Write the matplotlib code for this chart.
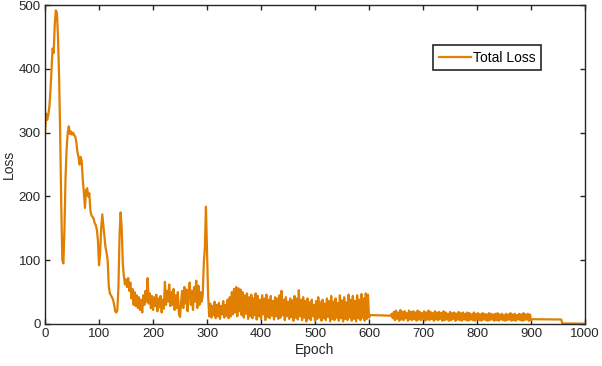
import numpy as np
import matplotlib
matplotlib.use('Agg')
import matplotlib.pyplot as plt

# ==========================================
# data (epoch -> loss)
# ==========================================
# 0-148, every 2 epochs: big early transient
warmup_epoch = list(range(0, 150, 2))
warmup_loss = [300, 330, 320, 328, 340, 365, 400, 432, 425, 470,
               492, 488, 450, 390, 300, 190, 100, 95, 150, 230,
               275, 300, 310, 298, 302, 297, 300, 296, 294, 285,
               270, 262, 250, 262, 255, 225, 205, 182, 210, 213,
               200, 205, 178, 170, 168, 165, 158, 155, 148, 130,
               92, 110, 150, 172, 155, 138, 120, 112, 100, 60,
               48, 45, 42, 38, 30, 20, 18, 22, 60, 140,
               175, 150, 95, 75, 62]

# 150-300, every 2 epochs: noisy plateau + spike near 300
mid_epoch = list(range(150, 302, 2))
mid_loss = [70, 58, 72, 52, 65, 40, 55, 30, 50, 28,
            45, 25, 42, 22, 38, 18, 45, 30, 52, 35,
            72, 32, 48, 25, 44, 22, 42, 28, 46, 20,
            40, 26, 44, 18, 38, 24, 66, 30, 52, 35,
            62, 28, 50, 30, 55, 22, 45, 25, 50, 15,
            11, 35, 52, 25, 58, 32, 54, 20, 50, 65,
            30, 52, 22, 58, 35, 68, 25, 60, 30, 50,
            35, 45, 95, 120, 184, 115]

# 302-600, every 2 epochs: heavy oscillation
osc_epoch = list(range(302, 602, 2))
osc_loss = [45, 12, 32, 10, 28, 14, 35, 9, 30, 12,
            33, 8, 28, 15, 36, 10, 30, 13, 38, 9,
            42, 12, 50, 15, 55, 18, 58, 12, 56, 20,
            54, 14, 50, 10, 45, 16, 48, 8, 42, 12,
            46, 9, 40, 14, 48, 7, 44, 12, 38, 8,
            45, 15, 40, 6, 46, 11, 38, 9, 44, 13,
            36, 7, 42, 12, 40, 8, 45, 10, 52, 14,
            38, 6, 42, 12, 35, 8, 40, 11, 37, 5,
            44, 10, 40, 7, 53, 12, 38, 6, 42, 10,
            36, 4, 40, 9, 34, 6, 38, 12, 30, 5,
            36, 8, 42, 10, 34, 5, 38, 9, 32, 6,
            40, 11, 36, 4, 44, 8, 35, 6, 40, 10,
            33, 5, 45, 9, 37, 4, 42, 8, 34, 6,
            46, 10, 38, 5, 44, 8, 36, 4, 45, 9,
            38, 6, 47, 10, 40, 5, 48, 8, 46, 10]

# 602-640 flat, then 642-900 small oscillation
flat_epoch = [602, 620, 640]
flat_loss = [14, 13.5, 13]

late_epoch = list(range(642, 902, 2))
late_loss = [16, 9, 19, 6, 21, 8, 18, 5, 22, 7,
             19, 6, 20, 9, 17, 5, 21, 7, 19, 6,
             20, 8, 18, 5, 21, 7, 19, 6, 17, 8,
             20, 5, 18, 7, 21, 6, 19, 8, 17, 5,
             20, 7, 18, 6, 19, 8, 17, 5, 20, 6,
             18, 7, 16, 5, 19, 6, 17, 8, 18, 5,
             16, 7, 19, 6, 17, 5, 18, 7, 16, 6,
             18, 5, 17, 7, 15, 6, 18, 5, 16, 7,
             17, 6, 15, 5, 17, 7, 16, 6, 15, 5,
             17, 6, 16, 7, 15, 5, 16, 6, 17, 5,
             15, 7, 16, 6, 14, 5, 16, 6, 15, 7,
             17, 5, 15, 6, 16, 5, 14, 7, 16, 6,
             15, 5, 17, 6, 15, 7, 16, 5, 15, 6]

tail_epoch = [902, 956, 958, 1000]
tail_loss = [7.5, 7, 0.8, 0.5]

epoch = warmup_epoch + mid_epoch + osc_epoch + flat_epoch + late_epoch + tail_epoch
loss = warmup_loss + mid_loss + osc_loss + flat_loss + late_loss + tail_loss

# ==========================================
# plot (matlab-ish look)
# ==========================================
plt.rcParams['font.family'] = ['Liberation Sans', 'DejaVu Sans']
AX_COL = '#262626'

fig = plt.figure(figsize=(6.02, 3.66), dpi=100)
ax = fig.add_axes([0.0748, 0.1148, 0.897, 0.871])

ax.plot(epoch, loss, color='#E17F00', linewidth=1.6, label='Total Loss')

ax.set_xlim(0, 1000)
ax.set_ylim(0, 500)
ax.set_xticks(np.arange(0, 1001, 100))
ax.set_yticks(np.arange(0, 501, 100))
ax.tick_params(direction='in', top=True, right=True, length=3.5, width=1.0,
               colors=AX_COL, labelsize=9.5, pad=3)
for sp in ax.spines.values():
    sp.set_color(AX_COL)
    sp.set_linewidth(1.0)

ax.set_xlabel('Epoch', fontsize=10, color=AX_COL, labelpad=2)
ax.set_ylabel('Loss', fontsize=10, color=AX_COL, labelpad=2)

leg = ax.legend(loc='upper left', bbox_to_anchor=(0.7185, 0.8746), fancybox=False,
                edgecolor=AX_COL, framealpha=1, fontsize=10, handlelength=2.3,
                handletextpad=0.2, borderpad=0.4, borderaxespad=0)
leg.get_frame().set_linewidth(1.2)

fig.savefig('out.png', dpi=100)
